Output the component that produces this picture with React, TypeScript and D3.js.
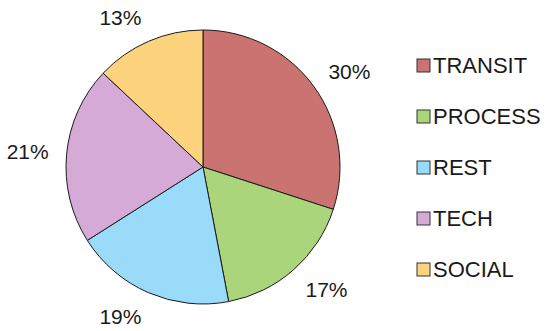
import React from 'react';
import * as d3 from 'd3';

const categories = ['TRANSIT', 'PROCESS', 'REST', 'TECH', 'SOCIAL'];
const values = [30, 17, 19, 21, 13];
const colors = ['#CB7371', '#AAD57A', '#99DBF8', '#D6AAD6', '#FDD47D'];

const width = 550;
const height = 331;
const cx = 203;
const cy = 167;
const radius = 137;
const labelRx = 155; // horizontal distance to the label's inner edge
const labelRy = 163; // vertical distance to the label's middle

const App: React.FC = () => {
  const pie = d3.pie<number>().sort(null).value(d => d);
  const arcs = pie(values);
  const arc = d3.arc<d3.PieArcDatum<number>>().innerRadius(0).outerRadius(radius);

  const legendY = d3.scalePoint<string>()
    .domain(categories)
    .range([65, 269]);

  return (
    <svg width={width} height={height}
      style={{ position: 'absolute', left: 0, top: 0, background: '#fff' }}
      fontFamily="Liberation Sans, Arial, sans-serif">
      <g transform={`translate(${cx},${cy})`}>
        {arcs.map((a, i) => (
          <path key={i} d={arc(a)!} fill={colors[i]} stroke="#1a1a1a" strokeWidth={1} />
        ))}
        {arcs.map((a, i) => {
          const mid = (a.startAngle + a.endAngle) / 2;
          const ux = Math.sin(mid);
          const uy = -Math.cos(mid);
          return (
            <text key={i} x={labelRx * ux} y={labelRy * uy}
              textAnchor={ux >= 0 ? 'start' : 'end'} dominantBaseline="central"
              fontSize={21} fill="#1a1a1a">
              {values[i]}%
            </text>
          );
        })}
      </g>
      <g>
        {categories.map((c, i) => (
          <g key={c} transform={`translate(417,${legendY(c)})`}>
            <rect x={0} y={-6} width={13} height={13} fill={colors[i]} stroke="#333" strokeWidth={1} />
            <text x={16} y={0} dominantBaseline="central" fontSize={22} fill="#1a1a1a">{c}</text>
          </g>
        ))}
      </g>
    </svg>
  );
};

export default App;
